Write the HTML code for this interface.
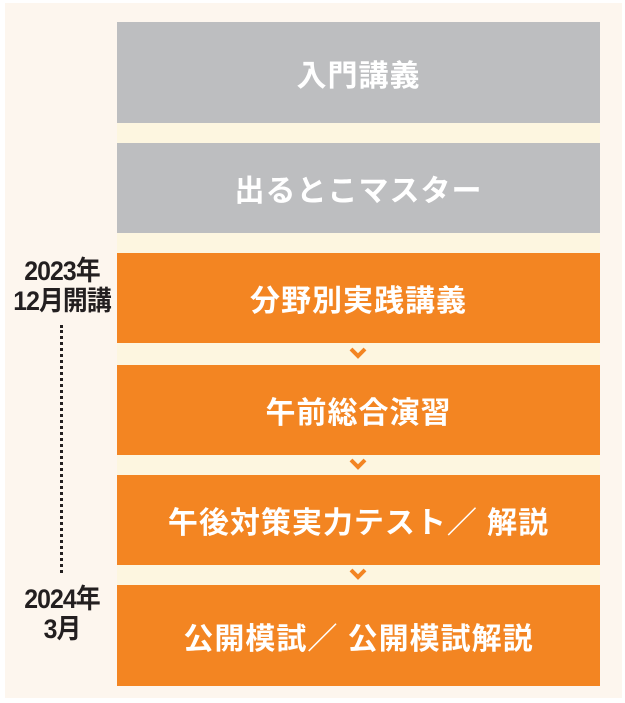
<!DOCTYPE html>
<html><head><meta charset="utf-8"><style>
body{margin:0;width:625px;height:703px;background:#fff;position:relative;overflow:hidden;font-family:"Liberation Sans","Noto Sans CJK JP",sans-serif}
.panel{position:absolute;left:5px;top:3px;width:617px;height:695px;background:#fdf6ee}
.strip{position:absolute;left:117px;top:22px;width:483px;height:664px;background:#fdf6e0}
.b{position:absolute;left:117px;width:483px;display:flex;align-items:center;justify-content:center;color:#fff;font-size:30px;font-weight:bold;letter-spacing:1px}
.g{background:#bdbec0}.o{background:#f38522}
.lab{position:absolute;color:#231f20;font-size:27px;font-weight:bold;line-height:30px;text-align:center;width:110px;left:7px;letter-spacing:-1px;transform:scaleX(0.92)}
.dot{position:absolute;left:60px;top:325px;height:248px;border-left:3px dotted #231f20}
svg.c{position:absolute;left:348px}
</style></head><body>
<div class="panel"></div>
<div class="strip"></div>
<div class="b g" style="top:22px;height:101px">入門講義</div>
<div class="b g" style="top:143px;height:90px">出るとこマスター</div>
<div class="b o" style="top:253px;height:90px">分野別実践講義</div>
<div class="b o" style="top:365px;height:90px">午前総合演習</div>
<div class="b o" style="top:475px;height:90px">午後対策実力テスト／ 解説</div>
<div class="b o" style="top:585px;height:101px">公開模試／ 公開模試解説</div>
<svg class="c" style="top:347px" width="20" height="12"><polyline points="3,2 10,9 17,2" fill="none" stroke="#f38522" stroke-width="4"/></svg>
<svg class="c" style="top:458px" width="20" height="12"><polyline points="3,2 10,9 17,2" fill="none" stroke="#f38522" stroke-width="4"/></svg>
<svg class="c" style="top:568px" width="20" height="12"><polyline points="3,2 10,9 17,2" fill="none" stroke="#f38522" stroke-width="4"/></svg>
<div class="lab" style="top:256px">2023年<br>12月開講</div>
<div class="dot"></div>
<div class="lab" style="top:584px">2024年<br>3月</div>
</body></html>
